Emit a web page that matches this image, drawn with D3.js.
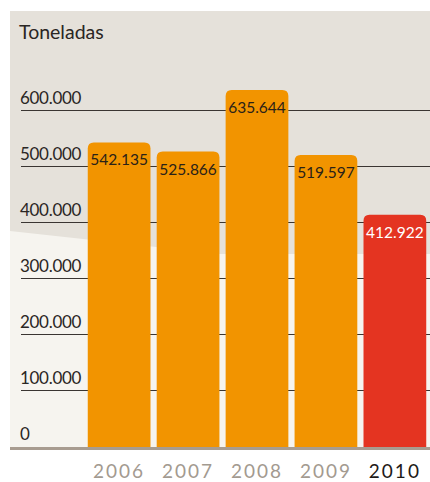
<!DOCTYPE html>
<html lang="es">
<head>
<meta charset="UTF-8">
<title>Toneladas 2006-2010</title>
<script src="https://d3js.org/d3.v7.min.js"></script>
<style>
  body { margin: 0; background: #fff; }
  svg text { font-family: Lato, "Open Sans", sans-serif; }
</style>
</head>
<body>
<div id="chart"></div>
<script>
// data
var years = ["2006", "2007", "2008", "2009", "2010"];
var tonnes = [542135, 525866, 635644, 519597, 412922];
var valueLabels = ["542.135", "525.866", "635.644", "519.597", "412.922"];
var tickValues = [0, 100000, 200000, 300000, 400000, 500000, 600000];
var tickLabels = ["0", "100.000", "200.000", "300.000", "400.000", "500.000", "600.000"];

var width = 430, height = 482;

var svg = d3.select("#chart").append("svg")
  .attr("width", width)
  .attr("height", height);

// background panel
svg.append("rect")
  .attr("x", 10).attr("y", 11)
  .attr("width", width - 10).attr("height", 438)
  .attr("fill", "#e5e1da");

svg.append("polygon")
  .attr("points", "10,231 220,254 430,254 430,449 10,449")
  .attr("fill", "#f6f4ef");

var y = d3.scaleLinear()
  .domain([0, 600000])
  .range([446, 110]);

var x = d3.scaleBand()
  .domain(years)
  .range([85, 429])
  .paddingInner(0.09)
  .paddingOuter(0.04);

// gridlines + tick labels
var grid = svg.append("g");
grid.selectAll("line")
  .data(tickValues.filter(function (d) { return d > 0; }))
  .enter().append("line")
  .attr("x1", 21).attr("x2", width)
  .attr("y1", function (d) { return Math.round(y(d)) + 0.5; })
  .attr("y2", function (d) { return Math.round(y(d)) + 0.5; })
  .attr("stroke", "#3a3532")
  .attr("stroke-width", 1);

grid.selectAll("text")
  .data(tickValues)
  .enter().append("text")
  .attr("x", 20)
  .attr("y", function (d) { return y(d) - 6; })
  .attr("font-size", 17)
  .attr("letter-spacing", -0.3)
  .attr("fill", "#2a2624")
  .text(function (d, i) { return tickLabels[i]; });

// title
svg.append("text")
  .attr("x", 19).attr("y", 39)
  .attr("font-size", 19.5)
  .attr("fill", "#2a2624")
  .text("Toneladas");

// bars with rounded top corners
var r = 6;
function barPath(d, i) {
  var x0 = x(years[i]), w = x.bandwidth();
  var top = y(d), bottom = 449;
  return "M" + x0 + "," + bottom +
    "V" + (top + r) +
    "Q" + x0 + "," + top + " " + (x0 + r) + "," + top +
    "H" + (x0 + w - r) +
    "Q" + (x0 + w) + "," + top + " " + (x0 + w) + "," + (top + r) +
    "V" + bottom + "Z";
}

svg.selectAll("path.bar")
  .data(tonnes)
  .enter().append("path")
  .attr("class", "bar")
  .attr("d", barPath)
  .attr("fill", function (d, i) { return i === years.length - 1 ? "#e43421" : "#f29400"; });

svg.selectAll("text.value")
  .data(tonnes)
  .enter().append("text")
  .attr("class", "value")
  .attr("x", function (d, i) { return x(years[i]) + x.bandwidth() / 2; })
  .attr("y", function (d) { return y(d) + 23; })
  .attr("text-anchor", "middle")
  .attr("font-size", 15.5)
  .attr("fill", function (d, i) { return i === years.length - 1 ? "#ffffff" : "#2a2218"; })
  .text(function (d, i) { return valueLabels[i]; });

// baseline
svg.append("line")
  .attr("x1", 10).attr("x2", width)
  .attr("y1", 448.5).attr("y2", 448.5)
  .attr("stroke", "#a89c90")
  .attr("stroke-width", 3);

// year labels
svg.selectAll("text.year")
  .data(years)
  .enter().append("text")
  .attr("class", "year")
  .attr("x", function (d) { return x(d) + x.bandwidth() / 2; })
  .attr("y", 478)
  .attr("text-anchor", "middle")
  .attr("font-size", 19)
  .attr("letter-spacing", 2)
  .attr("fill", function (d, i) { return i === years.length - 1 ? "#1e1a18" : "#a39a90"; })
  .text(function (d) { return d; });
</script>
</body>
</html>
